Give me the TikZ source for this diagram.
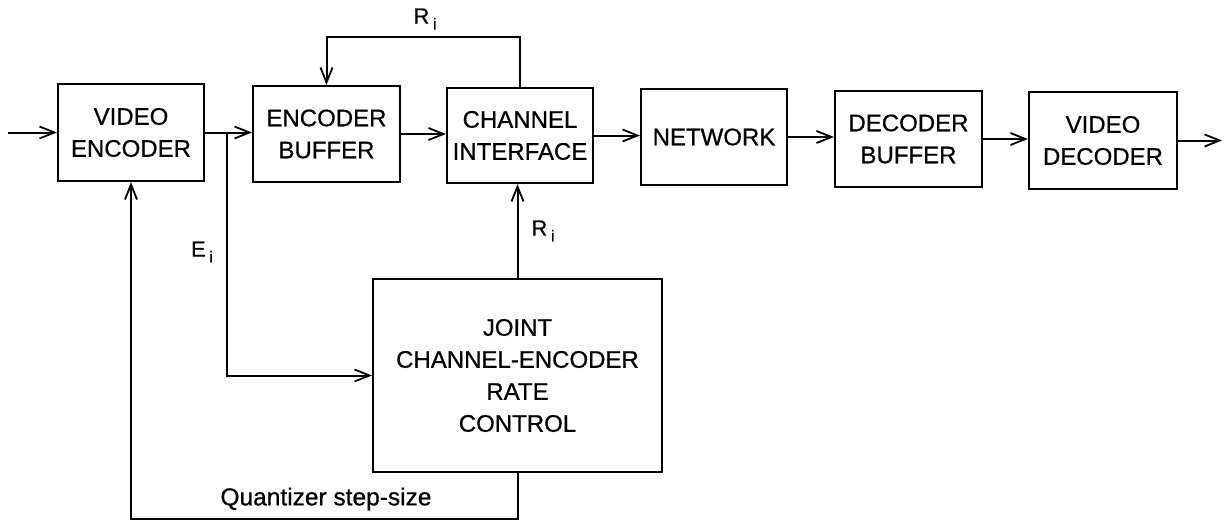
\documentclass[tikz,border=0pt]{standalone}
\usepackage{fontspec}
\setmainfont[FakeBold=0.7]{Liberation Sans}
\usetikzlibrary{arrows.meta}
\begin{document}
\begin{tikzpicture}[x=1pt,y=-1pt,
  blk/.style={draw, line width=2.2pt, align=center, inner sep=0pt,
    font=\fontsize{24}{32}\selectfont},
  arr/.style={line width=2pt, -{Straight Barb[length=15pt,width=12pt,line width=1.8pt]}},
  lbl/.style={font=\fontsize{22}{26}\selectfont, inner sep=0pt}]
\useasboundingbox (0,0) rectangle (1225,525);
\node[blk, minimum width=146pt, minimum height=97pt] (ve) at (131,132.5) {VIDEO\\ENCODER};
\node[blk, minimum width=147pt, minimum height=96pt] (eb) at (326.5,134) {ENCODER\\BUFFER};
\node[blk, minimum width=146pt, minimum height=95pt] (ci) at (520,135.5) {CHANNEL\\INTERFACE};
\node[blk, minimum width=146pt, minimum height=96pt] (nw) at (714,137) {NETWORK};
\node[blk, minimum width=147pt, minimum height=96pt] (db) at (908.5,139) {DECODER\\BUFFER};
\node[blk, minimum width=148pt, minimum height=97pt] (vd) at (1103,140.5) {VIDEO\\DECODER};
\node[blk, minimum width=289pt, minimum height=193pt] (jc) at (517.5,375.5) {JOINT\\CHANNEL-ENCODER\\RATE\\CONTROL};
\coordinate (in) at (8,132.5);
\coordinate (out) at (1222,140.5);
\coordinate (br) at (227,132.5);
\coordinate (top) at (520,37);
\coordinate (qb) at (517.5,519);
% main chain
\draw[arr] (in) -- (ve.west);
\draw[arr] (ve.east) -- (ve.east -| eb.west);
\draw[arr] (eb.east) -- (eb.east -| ci.west);
\draw[arr] (ci.east) -- (ci.east -| nw.west);
\draw[arr] (nw.east) -- (nw.east -| db.west);
\draw[arr] (db.east) -- (db.east -| vd.west);
\draw[arr] (vd.east) -- (out);
% feedback R_i top
\draw[arr] (ci.north) -- (top) -| (eb.north);
% E_i branch
\draw[arr] (br) |- (jc.west);
% R_i up
\draw[arr] (jc.north) -- (jc.north |- ci.south);
% Quantizer step-size
\draw[arr] (jc.south) -- (qb) -| (ve.south);
% labels
\node[lbl] (r1) at (425,19) {R\,\raisebox{-0.5ex}{\fontsize{16}{20}\selectfont i}};
\node[lbl] (r2) at (543,231) {R\,\raisebox{-0.5ex}{\fontsize{16}{20}\selectfont i}};
\node[lbl] (e1) at (202,252) {E\,\raisebox{-0.5ex}{\fontsize{16}{20}\selectfont i}};
\node[lbl, font=\fontsize{24.5}{28}\selectfont] (q) at (326,499) {Quantizer step-size};
\end{tikzpicture}
\end{document}
